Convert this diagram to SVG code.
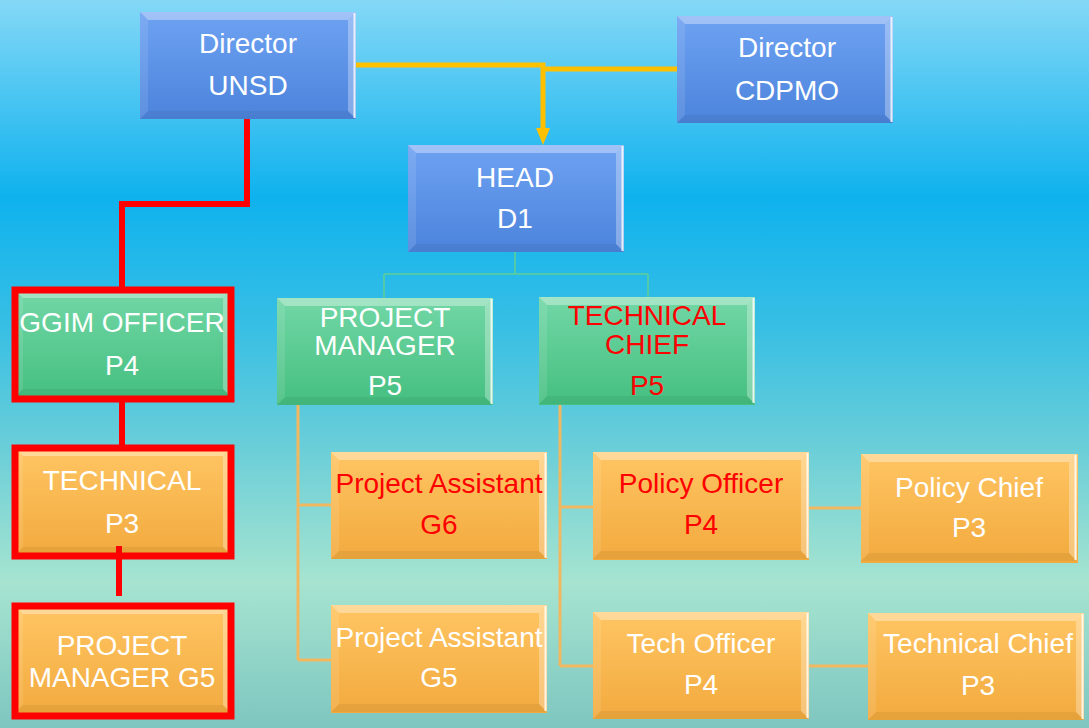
<svg xmlns="http://www.w3.org/2000/svg" xmlns:xlink="http://www.w3.org/1999/xlink" width="1089" height="728" viewBox="0 0 1089 728">
<defs>
<linearGradient id="bg" x1="0" y1="0" x2="0" y2="1">
<stop offset="0" stop-color="#84d8f6"/>
<stop offset="0.27" stop-color="#0fb2ee"/>
<stop offset="0.45" stop-color="#38bfe4"/>
<stop offset="0.62" stop-color="#6ccfd8"/>
<stop offset="0.8" stop-color="#a6e4d0"/>
<stop offset="1" stop-color="#7ec6c0"/>
</linearGradient>
<linearGradient id="gBlue" x1="0" y1="0" x2="0" y2="1">
<stop offset="0" stop-color="#6ea2f2"/>
<stop offset="1" stop-color="#4c84dc"/>
</linearGradient>
<linearGradient id="gGreen" x1="0" y1="0" x2="0" y2="1">
<stop offset="0" stop-color="#72d7a6"/>
<stop offset="1" stop-color="#45bf80"/>
</linearGradient>
<linearGradient id="gOrange" x1="0" y1="0" x2="0" y2="1">
<stop offset="0" stop-color="#ffc563"/>
<stop offset="1" stop-color="#f2aa3e"/>
</linearGradient>
<g id="bevel">
<polygon points="0,0 216,0 208,8 8,8" fill="#ffffff" fill-opacity="0.35"/>
<polygon points="0,0 8,8 8,99 0,107" fill="#ffffff" fill-opacity="0.1"/>
<polygon points="0,107 8,99 208,99 216,107" fill="#000000" fill-opacity="0.05"/>
<polygon points="216,0 216,107 208,99 208,8" fill="#ffffff" fill-opacity="0.3"/>
<line x1="214.5" y1="1" x2="214.5" y2="106" stroke="#ffffff" stroke-width="2" stroke-opacity="0.8"/>
</g>
<marker id="arrY" markerUnits="userSpaceOnUse" markerWidth="17" markerHeight="14" refX="0" refY="7" orient="auto">
<path d="M0,0 L17,7 L0,14 z" fill="#ffc000"/>
</marker>
</defs>
<style>
.blue{fill:url(#gBlue)}
.green{fill:url(#gGreen)}
.orange{fill:url(#gOrange)}
.frame{fill:none;stroke:#ff0000;stroke-width:7}
text{font-family:"Liberation Sans",Arial,sans-serif;font-size:28px;fill:#ffffff;text-anchor:middle}
text.red{fill:#ff0000}
.cy{fill:none;stroke:#ffc000;stroke-width:5}
.ct{fill:none;stroke:#52c9a8;stroke-width:2}
.co{fill:none;stroke:#f2b860;stroke-width:3}
.cr{fill:none;stroke:#ff0000;stroke-width:6}
</style>
<rect x="0" y="0" width="1089" height="728" fill="url(#bg)"/>

<g id="director-unsd" transform="translate(140,12)">
<rect class="blue" width="216" height="107"/><use xlink:href="#bevel"/>
<text x="108" y="41">Director</text><text x="108" y="83">UNSD</text>
</g>
<g id="director-cdpmo" transform="translate(677,16)">
<rect class="blue" width="216" height="107"/><use xlink:href="#bevel"/>
<text x="110" y="41">Director</text><text x="110" y="84">CDPMO</text>
</g>
<g id="head-d1" transform="translate(408,145)">
<rect class="blue" width="216" height="107"/><use xlink:href="#bevel"/>
<text x="107" y="42">HEAD</text><text x="107" y="83">D1</text>
</g>
<g id="ggim-officer" transform="translate(15,290)">
<rect class="green" width="216" height="109"/><use xlink:href="#bevel"/>
<rect class="frame" width="216" height="109"/>
<text x="107" y="42">GGIM OFFICER</text><text x="107" y="85">P4</text>
</g>
<g id="technical-p3" transform="translate(15,448)">
<rect class="orange" width="216" height="108"/><use xlink:href="#bevel"/>
<rect class="frame" width="216" height="108"/>
<text x="107" y="42">TECHNICAL</text><text x="107" y="85">P3</text>
</g>
<g id="project-manager-g5" transform="translate(15,606)">
<rect class="orange" width="216" height="110"/><use xlink:href="#bevel"/>
<rect class="frame" width="216" height="110"/>
<text x="107" y="49">PROJECT</text><text x="107" y="81">MANAGER G5</text>
</g>
<g id="project-manager-p5" transform="translate(277,298)">
<rect class="green" width="216" height="107"/><use xlink:href="#bevel"/>
<text x="108" y="29">PROJECT</text><text x="108" y="57">MANAGER</text><text x="108" y="97">P5</text>
</g>
<g id="technical-chief-p5" transform="translate(539,297)">
<rect class="green" width="216" height="108"/><use xlink:href="#bevel"/>
<text class="red" x="108" y="28">TECHNICAL</text><text class="red" x="108" y="57">CHIEF</text><text class="red" x="108" y="98">P5</text>
</g>
<g id="project-assistant-g6" transform="translate(331,452)">
<rect class="orange" width="216" height="107"/><use xlink:href="#bevel"/>
<text class="red" x="108" y="41">Project Assistant</text><text class="red" x="108" y="82">G6</text>
</g>
<g id="project-assistant-g5" transform="translate(331,605)">
<rect class="orange" width="216" height="108"/><use xlink:href="#bevel"/>
<text x="108" y="42">Project Assistant</text><text x="108" y="82">G5</text>
</g>
<g id="policy-officer-p4" transform="translate(593,452)">
<rect class="orange" width="216" height="108"/><use xlink:href="#bevel"/>
<text class="red" x="108" y="41">Policy Officer</text><text class="red" x="108" y="82">P4</text>
</g>
<g id="policy-chief-p3" transform="translate(861,454)">
<rect class="orange" width="217" height="109"/><use xlink:href="#bevel"/>
<text x="108" y="43">Policy Chief</text><text x="108" y="83">P3</text>
</g>
<g id="tech-officer-p4" transform="translate(593,612)">
<rect class="orange" width="216" height="107"/><use xlink:href="#bevel"/>
<text x="108" y="41">Tech Officer</text><text x="108" y="82">P4</text>
</g>
<g id="technical-chief-p3" transform="translate(868,613)">
<rect class="orange" width="216" height="107"/><use xlink:href="#bevel"/>
<text x="110" y="40">Technical Chief</text><text x="110" y="82">P3</text>
</g>

<g id="connectors">
<path class="cy" d="M356,65 H543 V128" marker-end="url(#arrY)"/>
<path class="cy" d="M677,69 H541"/>
<path class="ct" d="M515,252 V274 M384,274 H648 M384,274 V298 M648,274 V297"/>
<path class="co" d="M298,405 V660 M298,505 H331 M298,660 H331"/>
<path class="co" d="M560,405 V666 M560,507 H593 M560,666 H593"/>
<path class="co" d="M809,508 H861 M809,666 H868"/>
<path class="cr" d="M247,119 V204 H122 V287"/>
<path class="cr" d="M122,402 V445"/>
<path class="cr" d="M119,546 V596"/>
</g>
</svg>
